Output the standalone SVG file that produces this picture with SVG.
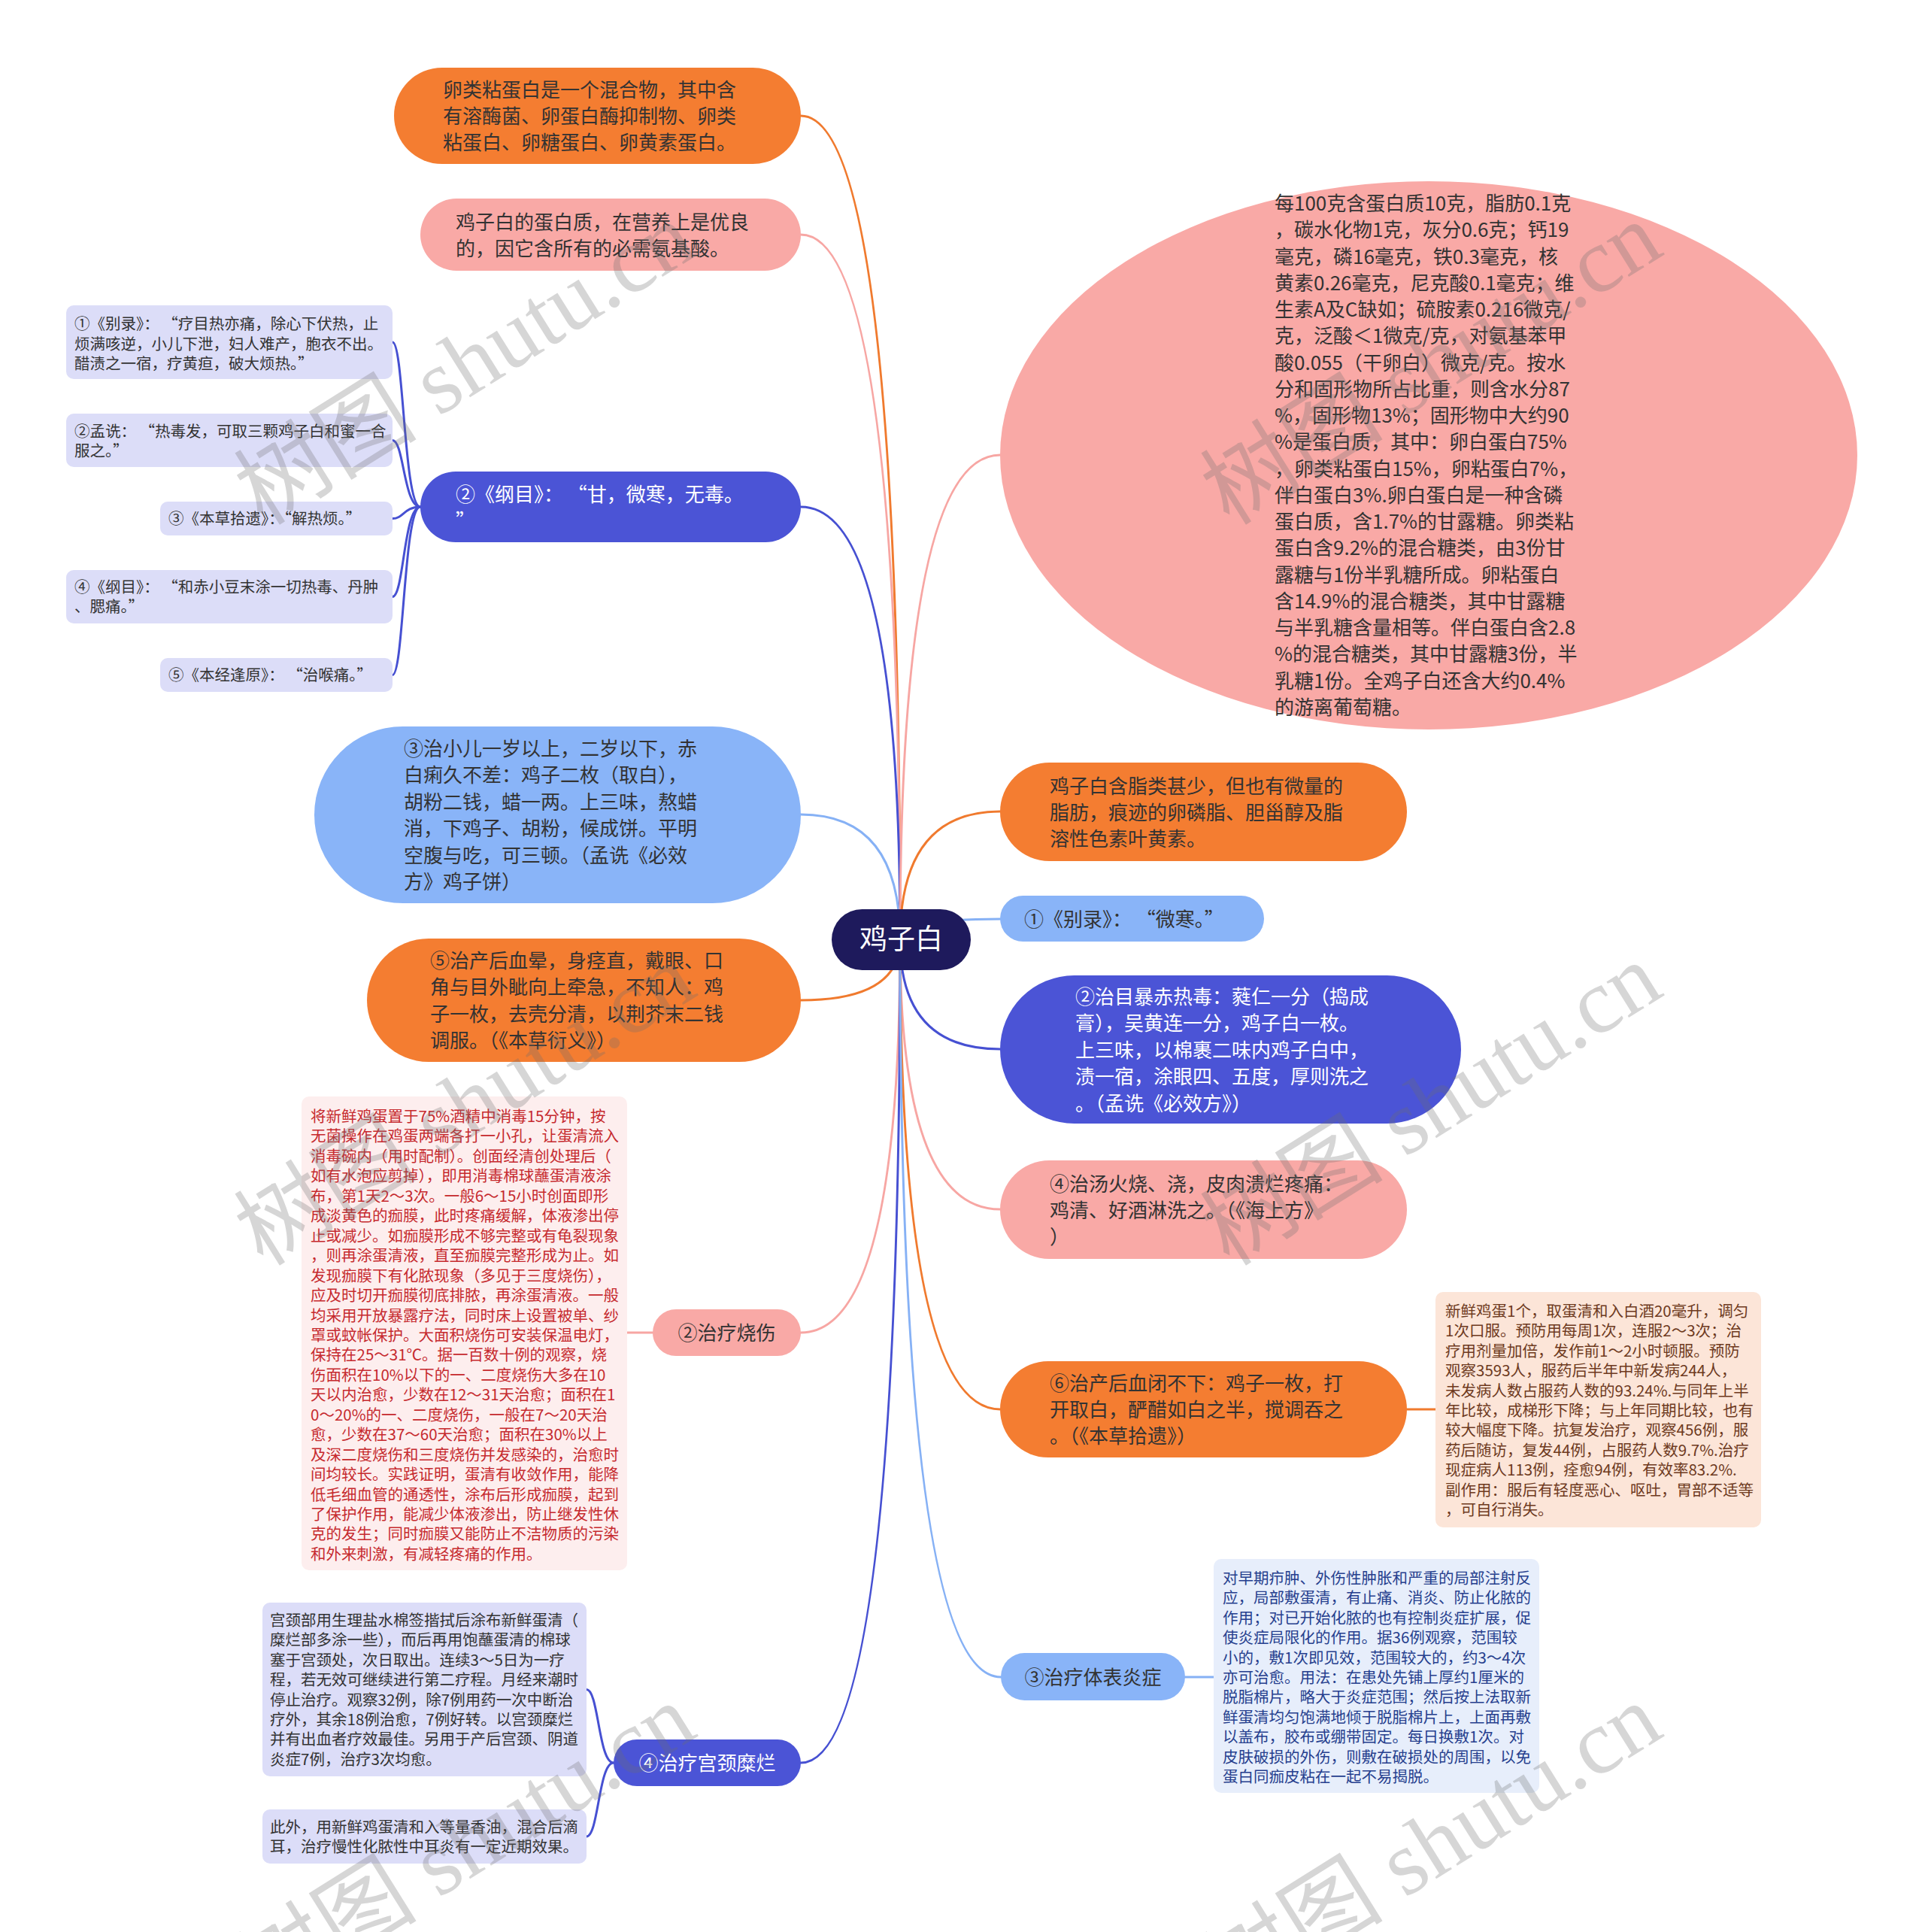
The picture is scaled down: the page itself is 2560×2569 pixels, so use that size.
<svg xmlns="http://www.w3.org/2000/svg" width="2560" height="2569" viewBox="0 0 2560 2569">
<style>
.t{font-family:"Noto Sans CJK SC","Liberation Sans",sans-serif;font-size:26px;fill:#333333}
.w{fill:#ffffff}
.s{font-family:"Noto Sans CJK SC","Liberation Sans",sans-serif;font-size:20.5px}
.dk{fill:#333333}
.red{fill:#C62A2E}
.brn{fill:#6E3A1E}
.blu{fill:#263F8E}
.orange{fill:#F47D31}
.pink{fill:#F9A9A6}
.purple{fill:#4B54D6}
.lblue{fill:#89B4F8}
.lav{fill:#DCDDF8}
.c{fill:none;stroke-width:3;stroke-linecap:round}
.co{stroke:#F07A2E}.cp{stroke:#F7A6A3}.cb{stroke:#4650D2}.cl{stroke:#86B1F5}
.wm{font-family:"Liberation Serif","Noto Sans CJK SC",serif;font-size:122px;fill:#6e6e6e;opacity:0.28}
</style>
<rect width="2560" height="2569" fill="#ffffff"/>
<g id="connectors">
<path class="c co" d="M1197,1250 Q1197,154 1065,154"/>
<path class="c cp" d="M1197,1250 Q1197,312 1065,312"/>
<path class="c cb" d="M1197,1250 Q1197,674 1065,674"/>
<path class="c cl" d="M1197,1250 Q1197,1083 1065,1083"/>
<path class="c co" d="M1197,1250 Q1197,1330 1065,1330"/>
<path class="c cp" d="M1197,1250 Q1197,1772 1065,1772"/>
<path class="c cb" d="M1197,1250 Q1197,2344 1065,2344"/>
<path class="c cp" d="M1197,1250 Q1197,605 1330,605"/>
<path class="c co" d="M1197,1250 Q1197,1079 1330,1079"/>
<path class="c cl" d="M1197,1250 Q1197,1222 1330,1222"/>
<path class="c cb" d="M1197,1250 Q1197,1395 1330,1395"/>
<path class="c cp" d="M1197,1250 Q1197,1608 1330,1608"/>
<path class="c co" d="M1197,1250 Q1197,1874 1330,1874"/>
<path class="c cl" d="M1197,1250 Q1197,2230 1331,2230"/>
<path class="c cb" d="M559,674 C537,674 537,455 522,455"/>
<path class="c cb" d="M559,674 C537,674 537,585.5 522,585.5"/>
<path class="c cb" d="M559,674 C537,674 537,689.5 522,689.5"/>
<path class="c cb" d="M559,674 C537,674 537,793.5 522,793.5"/>
<path class="c cb" d="M559,674 C537,674 537,897.5 522,897.5"/>
<path class="c cb" d="M816,2344 C796,2344 796,2246.5 780,2246.5"/>
<path class="c cb" d="M816,2344 C796,2344 796,2442 780,2442"/>
<path class="c cp" d="M868,1772 L834,1772"/>
<path class="c co" d="M1871,1874 L1909,1874"/>
<path class="c cl" d="M1576,2230 L1614,2230"/>
</g>
<g id="center">
<rect x="1106" y="1209" width="185" height="81" rx="40.5" fill="#1E1A5C"/>
<text x="1198.5" y="1262" text-anchor="middle" style="font-family:'Noto Sans CJK SC',sans-serif;font-size:37px;fill:#ffffff">鸡子白</text>
</g>
<g id="nA">
<rect class="orange" x="524" y="90" width="541" height="128" rx="64"/>
<text class="t"><tspan x="589" y="129">卵类粘蛋白是一个混合物，其中含</tspan><tspan x="589" y="164">有溶酶菌、卵蛋白酶抑制物、卵类</tspan><tspan x="589" y="199">粘蛋白、卵糖蛋白、卵黄素蛋白。</tspan></text>
</g>
<g id="nB">
<rect class="pink" x="559" y="264" width="506" height="96" rx="48"/>
<text class="t"><tspan x="606" y="305">鸡子白的蛋白质，在营养上是优良</tspan><tspan x="606" y="340">的，因它含所有的必需氨基酸。</tspan></text>
</g>
<g id="nC">
<rect class="purple" x="559" y="627" width="506" height="94" rx="47"/>
<text class="t w"><tspan x="606" y="667">②《纲目》： “甘，微寒，无毒。</tspan><tspan x="606" y="702">”</tspan></text>
</g>
<g id="nC1">
<rect class="lav" x="88" y="406" width="434" height="98" rx="10"/>
<text class="s dk"><tspan x="99" y="438">①《别录》： “疗目热亦痛，除心下伏热，止</tspan><tspan x="99" y="465">烦满咳逆，小儿下泄，妇人难产，胞衣不出。</tspan><tspan x="99" y="491">醋渍之一宿，疗黄疸，破大烦热。”</tspan></text>
</g>
<g id="nC2">
<rect class="lav" x="88" y="550" width="434" height="71" rx="10"/>
<text class="s dk"><tspan x="99" y="581">②孟诜： “热毒发，可取三颗鸡子白和蜜一合</tspan><tspan x="99" y="607">服之。”</tspan></text>
</g>
<g id="nC3">
<rect class="lav" x="213" y="667" width="309" height="45" rx="10"/>
<text class="s dk" x="224" y="697">③《本草拾遗》：“解热烦。”</text>
</g>
<g id="nC4">
<rect class="lav" x="88" y="758" width="434" height="71" rx="10"/>
<text class="s dk"><tspan x="99" y="788">④《纲目》： “和赤小豆末涂一切热毒、丹肿</tspan><tspan x="99" y="814">、腮痛。”</tspan></text>
</g>
<g id="nC5">
<rect class="lav" x="213" y="875" width="309" height="45" rx="10"/>
<text class="s dk" x="224" y="905">⑤《本经逢原》： “治喉痛。”</text>
</g>
<g id="nD">
<rect class="lblue" x="418" y="966" width="647" height="235" rx="117.5"/>
<text class="t"><tspan x="537" y="1005">③治小儿一岁以上，二岁以下，赤</tspan><tspan x="537" y="1040">白痢久不差：鸡子二枚（取白），</tspan><tspan x="537" y="1076">胡粉二钱，蜡一两。上三味，熬蜡</tspan><tspan x="537" y="1111">消，下鸡子、胡粉，候成饼。平明</tspan><tspan x="537" y="1147">空腹与吃，可三顿。（孟诜《必效</tspan><tspan x="537" y="1182">方》鸡子饼）</tspan></text>
</g>
<g id="nE">
<rect class="orange" x="488" y="1248" width="577" height="164" rx="82"/>
<text class="t"><tspan x="572" y="1287">⑤治产后血晕，身痉直，戴眼、口</tspan><tspan x="572" y="1322">角与目外眦向上牵急，不知人：鸡</tspan><tspan x="572" y="1358">子一枚，去壳分清，以荆芥末二钱</tspan><tspan x="572" y="1393">调服。（《本草衍义》）</tspan></text>
</g>
<g id="nF">
<rect class="pink" x="868" y="1741" width="197" height="62" rx="31"/>
<text class="t" x="966.5" y="1782" text-anchor="middle">②治疗烧伤</text>
</g>
<g id="nF1">
<rect x="401" y="1458" width="433" height="630" rx="10" fill="#FDEEEE"/>
<text class="s red"><tspan x="413" y="1492">将新鲜鸡蛋置于75%酒精中消毒15分钟，按</tspan><tspan x="413" y="1518.45">无菌操作在鸡蛋两端各打一小孔，让蛋清流入</tspan><tspan x="413" y="1544.9">消毒碗内（用时配制）。创面经清创处理后（</tspan><tspan x="413" y="1571.35">如有水泡应剪掉），即用消毒棉球蘸蛋清液涂</tspan><tspan x="413" y="1597.8">布，第1天2～3次。一般6～15小时创面即形</tspan><tspan x="413" y="1624.25">成淡黄色的痂膜，此时疼痛缓解，体液渗出停</tspan><tspan x="413" y="1650.7">止或减少。如痂膜形成不够完整或有龟裂现象</tspan><tspan x="413" y="1677.15">，则再涂蛋清液，直至痂膜完整形成为止。如</tspan><tspan x="413" y="1703.6">发现痂膜下有化脓现象（多见于三度烧伤），</tspan><tspan x="413" y="1730.05">应及时切开痂膜彻底排脓，再涂蛋清液。一般</tspan><tspan x="413" y="1756.5">均采用开放暴露疗法，同时床上设置被单、纱</tspan><tspan x="413" y="1782.95">罩或蚊帐保护。大面积烧伤可安装保温电灯，</tspan><tspan x="413" y="1809.4">保持在25～31℃。据一百数十例的观察，烧</tspan><tspan x="413" y="1835.85">伤面积在10%以下的一、二度烧伤大多在10</tspan><tspan x="413" y="1862.3">天以内治愈，少数在12～31天治愈；面积在1</tspan><tspan x="413" y="1888.75">0～20%的一、二度烧伤，一般在7～20天治</tspan><tspan x="413" y="1915.2">愈，少数在37～60天治愈；面积在30%以上</tspan><tspan x="413" y="1941.65">及深二度烧伤和三度烧伤并发感染的，治愈时</tspan><tspan x="413" y="1968.1">间均较长。实践证明，蛋清有收敛作用，能降</tspan><tspan x="413" y="1994.55">低毛细血管的通透性，涂布后形成痂膜，起到</tspan><tspan x="413" y="2021">了保护作用，能减少体液渗出，防止继发性休</tspan><tspan x="413" y="2047.45">克的发生；同时痂膜又能防止不洁物质的污染</tspan><tspan x="413" y="2073.9">和外来刺激，有减轻疼痛的作用。</tspan></text>
</g>
<g id="nG">
<rect class="purple" x="816" y="2313" width="249" height="62" rx="31"/>
<text class="t w" x="940.5" y="2354" text-anchor="middle">④治疗宫颈糜烂</text>
</g>
<g id="nG1">
<rect class="lav" x="349" y="2131" width="431" height="231" rx="10"/>
<text class="s dk"><tspan x="359" y="2162">宫颈部用生理盐水棉签揩拭后涂布新鲜蛋清（</tspan><tspan x="359" y="2188.4">糜烂部多涂一些），而后再用饱蘸蛋清的棉球</tspan><tspan x="359" y="2214.8">塞于宫颈处，次日取出。连续3～5日为一疗</tspan><tspan x="359" y="2241.2">程，若无效可继续进行第二疗程。月经来潮时</tspan><tspan x="359" y="2267.6">停止治疗。观察32例，除7例用药一次中断治</tspan><tspan x="359" y="2294">疗外，其余18例治愈，7例好转。以宫颈糜烂</tspan><tspan x="359" y="2320.4">并有出血者疗效最佳。另用于产后宫颈、阴道</tspan><tspan x="359" y="2346.8">炎症7例，治疗3次均愈。</tspan></text>
</g>
<g id="nG2">
<rect class="lav" x="349" y="2406" width="431" height="72" rx="10"/>
<text class="s dk"><tspan x="359" y="2437">此外，用新鲜鸡蛋清和入等量香油，混合后滴</tspan><tspan x="359" y="2463">耳，治疗慢性化脓性中耳炎有一定近期效果。</tspan></text>
</g>
<g id="nH">
<ellipse class="pink" cx="1900" cy="605.5" rx="570" ry="364.5"/>
<text class="t"><tspan x="1695" y="280">每100克含蛋白质10克，脂肪0.1克</tspan><tspan x="1695" y="315.3">，碳水化物1克，灰分0.6克；钙19</tspan><tspan x="1695" y="350.5">毫克，磷16毫克，铁0.3毫克，核</tspan><tspan x="1695" y="385.8">黄素0.26毫克，尼克酸0.1毫克；维</tspan><tspan x="1695" y="421">生素A及C缺如；硫胺素0.216微克/</tspan><tspan x="1695" y="456.3">克，泛酸＜1微克/克，对氨基苯甲</tspan><tspan x="1695" y="491.6">酸0.055（干卵白）微克/克。按水</tspan><tspan x="1695" y="526.8">分和固形物所占比重，则含水分87</tspan><tspan x="1695" y="562.1">%，固形物13%；固形物中大约90</tspan><tspan x="1695" y="597.3">%是蛋白质，其中：卵白蛋白75%</tspan><tspan x="1695" y="632.6">，卵类粘蛋白15%，卵粘蛋白7%，</tspan><tspan x="1695" y="667.9">伴白蛋白3%.卵白蛋白是一种含磷</tspan><tspan x="1695" y="703.1">蛋白质，含1.7%的甘露糖。卵类粘</tspan><tspan x="1695" y="738.4">蛋白含9.2%的混合糖类，由3份甘</tspan><tspan x="1695" y="773.6">露糖与1份半乳糖所成。卵粘蛋白</tspan><tspan x="1695" y="808.9">含14.9%的混合糖类，其中甘露糖</tspan><tspan x="1695" y="844.2">与半乳糖含量相等。伴白蛋白含2.8</tspan><tspan x="1695" y="879.4">%的混合糖类，其中甘露糖3份，半</tspan><tspan x="1695" y="914.7">乳糖1份。全鸡子白还含大约0.4%</tspan><tspan x="1695" y="949.9">的游离葡萄糖。</tspan></text>
</g>
<g id="nI">
<rect class="orange" x="1330" y="1014" width="541" height="131" rx="65.5"/>
<text class="t"><tspan x="1396" y="1055">鸡子白含脂类甚少，但也有微量的</tspan><tspan x="1396" y="1090">脂肪，痕迹的卵磷脂、胆甾醇及脂</tspan><tspan x="1396" y="1125">溶性色素叶黄素。</tspan></text>
</g>
<g id="nJ">
<rect class="lblue" x="1330" y="1191" width="351" height="61" rx="30.5"/>
<text class="t" x="1362" y="1232">①《别录》： “微寒。”</text>
</g>
<g id="nK">
<rect class="purple" x="1330" y="1297" width="613" height="197" rx="98.5"/>
<text class="t w"><tspan x="1430" y="1335">②治目暴赤热毒：蕤仁一分（捣成</tspan><tspan x="1430" y="1370">膏），吴黄连一分，鸡子白一枚。</tspan><tspan x="1430" y="1406">上三味，以棉裹二味内鸡子白中，</tspan><tspan x="1430" y="1441">渍一宿，涂眼四、五度，厚则洗之</tspan><tspan x="1430" y="1477">。（孟诜《必效方》）</tspan></text>
</g>
<g id="nL">
<rect class="pink" x="1330" y="1543" width="541" height="131" rx="65.5"/>
<text class="t"><tspan x="1396" y="1584">④治汤火烧、浇，皮肉溃烂疼痛：</tspan><tspan x="1396" y="1619">鸡清、好酒淋洗之。（《海上方》</tspan><tspan x="1396" y="1654">）</tspan></text>
</g>
<g id="nM">
<rect class="orange" x="1330" y="1810" width="541" height="128" rx="64"/>
<text class="t"><tspan x="1396" y="1849">⑥治产后血闭不下：鸡子一枚，打</tspan><tspan x="1396" y="1884">开取白，酽醋如白之半，搅调吞之</tspan><tspan x="1396" y="1919">。（《本草拾遗》）</tspan></text>
</g>
<g id="nM1">
<rect x="1909" y="1718" width="433" height="313" rx="10" fill="#FCE5D8"/>
<text class="s brn"><tspan x="1922" y="1751">新鲜鸡蛋1个，取蛋清和入白酒20毫升，调匀</tspan><tspan x="1922" y="1777.4">1次口服。预防用每周1次，连服2～3次；治</tspan><tspan x="1922" y="1803.8">疗用剂量加倍，发作前1～2小时顿服。预防</tspan><tspan x="1922" y="1830.2">观察3593人，服药后半年中新发病244人，</tspan><tspan x="1922" y="1856.6">未发病人数占服药人数的93.24%.与同年上半</tspan><tspan x="1922" y="1883">年比较，成梯形下降；与上年同期比较，也有</tspan><tspan x="1922" y="1909.4">较大幅度下降。抗复发治疗，观察456例，服</tspan><tspan x="1922" y="1935.8">药后随访，复发44例，占服药人数9.7%.治疗</tspan><tspan x="1922" y="1962.2">现症病人113例，痊愈94例，有效率83.2%.</tspan><tspan x="1922" y="1988.6">副作用：服后有轻度恶心、呕吐，胃部不适等</tspan><tspan x="1922" y="2015">，可自行消失。</tspan></text>
</g>
<g id="nN">
<rect class="lblue" x="1331" y="2198" width="245" height="63" rx="31.5"/>
<text class="t" x="1453.5" y="2240" text-anchor="middle">③治疗体表炎症</text>
</g>
<g id="nN1">
<rect x="1614" y="2073" width="433" height="311" rx="10" fill="#E7EEFB"/>
<text class="s blu"><tspan x="1626" y="2106">对早期疖肿、外伤性肿胀和严重的局部注射反</tspan><tspan x="1626" y="2132.4">应，局部敷蛋清，有止痛、消炎、防止化脓的</tspan><tspan x="1626" y="2158.8">作用；对已开始化脓的也有控制炎症扩展，促</tspan><tspan x="1626" y="2185.2">使炎症局限化的作用。据36例观察，范围较</tspan><tspan x="1626" y="2211.6">小的，敷1次即见效，范围较大的，约3～4次</tspan><tspan x="1626" y="2238">亦可治愈。用法：在患处先铺上厚约1厘米的</tspan><tspan x="1626" y="2264.4">脱脂棉片，略大于炎症范围；然后按上法取新</tspan><tspan x="1626" y="2290.8">鲜蛋清均匀饱满地倾于脱脂棉片上，上面再敷</tspan><tspan x="1626" y="2317.2">以盖布，胶布或绷带固定。每日换敷1次。对</tspan><tspan x="1626" y="2343.6">皮肤破损的外伤，则敷在破损处的周围，以免</tspan><tspan x="1626" y="2370">蛋白同痂皮粘在一起不易揭脱。</tspan></text>
</g>
<g id="watermarks">
<text class="wm" transform="translate(350,700) rotate(-32)">树图 shutu.cn</text>
<text class="wm" transform="translate(1635,700) rotate(-32)">树图 shutu.cn</text>
<text class="wm" transform="translate(350,1685) rotate(-32)">树图 shutu.cn</text>
<text class="wm" transform="translate(1635,1685) rotate(-32)">树图 shutu.cn</text>
<text class="wm" transform="translate(350,2670) rotate(-32)">树图 shutu.cn</text>
<text class="wm" transform="translate(1635,2670) rotate(-32)">树图 shutu.cn</text>
</g>
</svg>
